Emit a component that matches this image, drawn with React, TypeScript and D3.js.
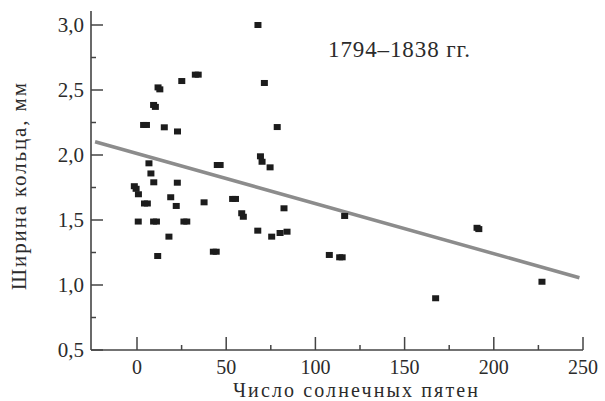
import React from "react";
import * as d3 from "d3";

const sunspots = [
  67.8, 32.7, 34.3, 25.1, 71.4, 11.8, 12.8, 9.3, 10.3, 3.7, 5.3, 15.3, 22.7, 78.6,
  6.7, 7.8, 9.4, 22.6, -1.5, -0.5, 0.8, 4.2, 5.8, 18.9, 22.0, 37.6, 0.7, 9.3, 10.9,
  26.3, 27.9, 17.9, 11.6, 42.8, 44.4, 45.0, 46.6, 69.2, 70.1, 74.6, 53.6, 55.2,
  58.7, 59.6, 82.4, 67.7, 75.5, 80.2, 84.1, 116.4, 107.8, 113.6, 115.0, 190.6,
  191.6, 227.0, 167.4,
];
const ringWidth = [
  3.0, 2.618, 2.618, 2.569, 2.554, 2.52, 2.505, 2.385, 2.37, 2.231, 2.231, 2.213,
  2.181, 2.215, 1.936, 1.858, 1.79, 1.787, 1.76, 1.74, 1.698, 1.627, 1.627, 1.675,
  1.608, 1.636, 1.488, 1.488, 1.488, 1.488, 1.488, 1.372, 1.223, 1.256, 1.256,
  1.923, 1.923, 1.99, 1.948, 1.905, 1.662, 1.662, 1.552, 1.525, 1.59, 1.418,
  1.372, 1.4, 1.41, 1.531, 1.231, 1.213, 1.213, 1.44, 1.43, 1.025, 0.898,
];
const trendX = [-23.5, 248];
const trendY = [2.102, 1.056];
const xTicks = [0, 50, 100, 150, 200, 250];
const xMinor = [25, 75, 125, 175, 225];
const yTicks = [0.5, 1.0, 1.5, 2.0, 2.5, 3.0];
const yMinor = [0.75, 1.25, 1.75, 2.25, 2.75];

const FONT = '"Liberation Serif", "Times New Roman", "DejaVu Serif", serif';
const TXT = "#2b2b2b";
const textStyle = { fontFamily: FONT };

export default function App() {
  const x = d3.scaleLinear().domain([0, 250]).range([137, 583]);
  const y = d3.scaleLinear().domain([0.5, 3.0]).range([350, 25]);
  const axisLeft = 91;
  const axisBottom = 350;
  const fmt = (v: number) => v.toFixed(1).replace(".", ",");
  const line = d3
    .line<number>()
    .x((_, i) => x(trendX[i]))
    .y((d) => y(d));

  return (
    <svg
      width={605}
      height={401}
      style={{ position: "absolute", left: 0, top: 0, background: "#fff", fontFamily: FONT }}
    >
      {/* axes */}
      <line x1={axisLeft} x2={axisLeft} y1={11} y2={axisBottom} stroke="#444" strokeWidth={1.6} />
      <line x1={axisLeft} x2={x(250)} y1={axisBottom} y2={axisBottom} stroke="#444" strokeWidth={1.6} />
      {yTicks.map((t) => (
        <g key={"y" + t}>
          <line x1={axisLeft} x2={axisLeft + 12} y1={y(t)} y2={y(t)} stroke="#444" strokeWidth={1.5} />
          <text
            x={84}
            y={y(t)}
            dy="0.35em"
            textAnchor="end"
            style={textStyle}
            fontSize={21}
            fill={TXT}
          >
            {fmt(t)}
          </text>
        </g>
      ))}
      {yMinor.map((t) => (
        <line key={"ym" + t} x1={axisLeft} x2={axisLeft + 5} y1={y(t)} y2={y(t)} stroke="#444" strokeWidth={1.5} />
      ))}
      {xTicks.map((t) => (
        <g key={"x" + t}>
          <line x1={x(t)} x2={x(t)} y1={axisBottom} y2={axisBottom - 13} stroke="#444" strokeWidth={1.5} />
          <text
            x={x(t)}
            y={374}
            textAnchor="middle"
            style={textStyle}
            fontSize={20}
            fill={TXT}
          >
            {t}
          </text>
        </g>
      ))}
      {xMinor.map((t) => (
        <line key={"xm" + t} x1={x(t)} x2={x(t)} y1={axisBottom} y2={axisBottom - 5} stroke="#444" strokeWidth={1.5} />
      ))}

      {/* trend line */}
      <path d={line(trendY) || ""} fill="none" stroke="#8c8c8c" strokeWidth={3.5} />

      {/* points */}
      {sunspots.map((s, i) => (
        <rect
          key={i}
          x={x(s) - 3.5}
          y={y(ringWidth[i]) - 3}
          width={7}
          height={6}
          fill="#1c1c1c"
        />
      ))}

      {/* labels */}
      <text
        x={233}
        y={397}
        style={textStyle}
        fontSize={20}
        textLength={245}
        lengthAdjust="spacing"
        fill={TXT}
      >
        Число солнечных пятен
      </text>
      <text
        transform={`translate(26, 290) rotate(-90)`}
        style={textStyle}
        fontSize={21}
        textLength={207}
        lengthAdjust="spacing"
        fill={TXT}
      >
        Ширина кольца, мм
      </text>
      <text
        x={328}
        y={57}
        style={textStyle}
        fontSize={23}
        textLength={142}
        lengthAdjust="spacing"
        fill={TXT}
      >
        1794–1838 гг.
      </text>
    </svg>
  );
}
